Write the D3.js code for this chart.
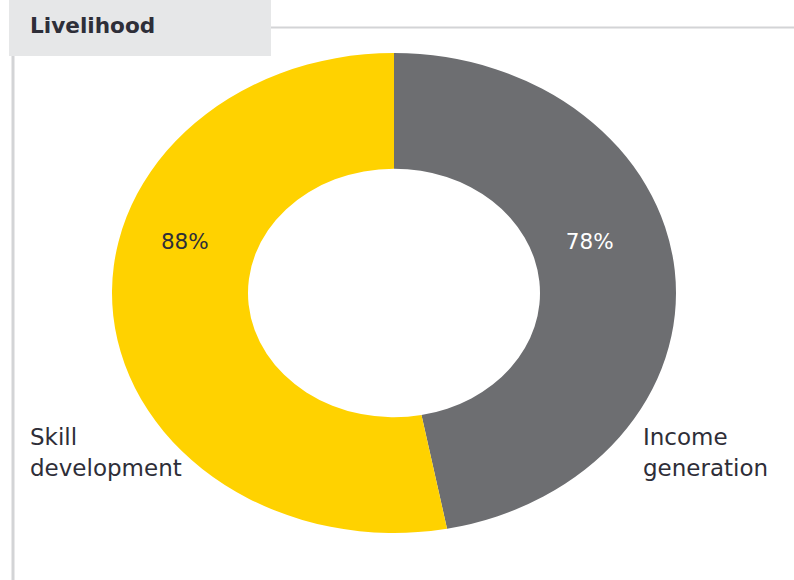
<!DOCTYPE html>
<html>
<head>
<meta charset="utf-8">
<script src="https://cdn.jsdelivr.net/npm/d3@7"></script>
<style>
  html, body { margin: 0; padding: 0; background: #ffffff; }
  svg { display: block; }
</style>
</head>
<body>
<svg id="chart" width="794" height="580"></svg>
<script>
// Livelihood donut: share of respondents per category
const categories = ["Income generation", "Skill development"];
const values = [78, 88];
const valueLabels = ["78%", "88%"];
const labelLines = [["Income", "generation"], ["Skill", "development"]];
const colors = ["#6d6e71", "#ffd200"];
const valueTextColors = ["#ffffff", "#2e2e38"];

const svg = d3.select("#chart");
const W = 794, H = 580;
const ink = "#2e2e38";
const font = "'DejaVu Sans', Verdana, sans-serif";

// header tab and frame rules
svg.append("line")
  .attr("x1", 270).attr("x2", W).attr("y1", 27.5).attr("y2", 27.5)
  .attr("stroke", "#d3d4d6").attr("stroke-width", 2);
svg.append("line")
  .attr("x1", 13).attr("x2", 13).attr("y1", 56).attr("y2", H)
  .attr("stroke", "#d3d4d6").attr("stroke-width", 3);
svg.append("rect")
  .attr("x", 9).attr("y", 0).attr("width", 262).attr("height", 56)
  .attr("fill", "#e6e7e8");
svg.append("text")
  .attr("x", 30).attr("y", 33)
  .attr("font-family", font).attr("font-weight", "bold").attr("font-size", 21.6)
  .attr("fill", ink).text("Livelihood");

// donut, drawn slightly flattened vertically
const cx = 394, cy = 293, rOuter = 282, rInner = 146, squash = 0.851;
const pie = d3.pie().sort(null).value(d => d);
const arcs = pie(values);
const arc = d3.arc().innerRadius(rInner).outerRadius(rOuter);

const g = svg.append("g")
  .attr("transform", `translate(${cx},${cy}) scale(1,${squash})`);
g.selectAll("path.slice")
  .data(arcs)
  .join("path")
  .attr("class", "slice")
  .attr("d", arc)
  .attr("fill", (d, i) => colors[i]);

// value labels sit in the upper part of each ring segment
const labelRadius = [205, 218];
const labelAngle = [72.7, 286.3].map(a => a * Math.PI / 180);
const vg = svg.append("g").attr("transform", `translate(${cx},${cy})`);
arcs.forEach((d, i) => {
  const a = labelAngle[i];
  vg.append("text")
    .attr("x", labelRadius[i] * Math.sin(a))
    .attr("y", -labelRadius[i] * Math.cos(a) * squash)
    .attr("dy", "0.36em")
    .attr("text-anchor", "middle")
    .attr("font-family", font).attr("font-size", 21.5)
    .attr("fill", valueTextColors[i])
    .text(valueLabels[i]);
});

// category names beside the ring
const catPos = [[643, 445], [30, 445]];
labelLines.forEach((lines, i) => {
  const t = svg.append("text")
    .attr("x", catPos[i][0]).attr("y", catPos[i][1])
    .attr("font-family", font).attr("font-size", 23)
    .attr("fill", ink);
  lines.forEach((ln, j) => {
    t.append("tspan")
      .attr("x", catPos[i][0])
      .attr("dy", j === 0 ? 0 : 31)
      .text(ln);
  });
});
</script>
</body>
</html>
